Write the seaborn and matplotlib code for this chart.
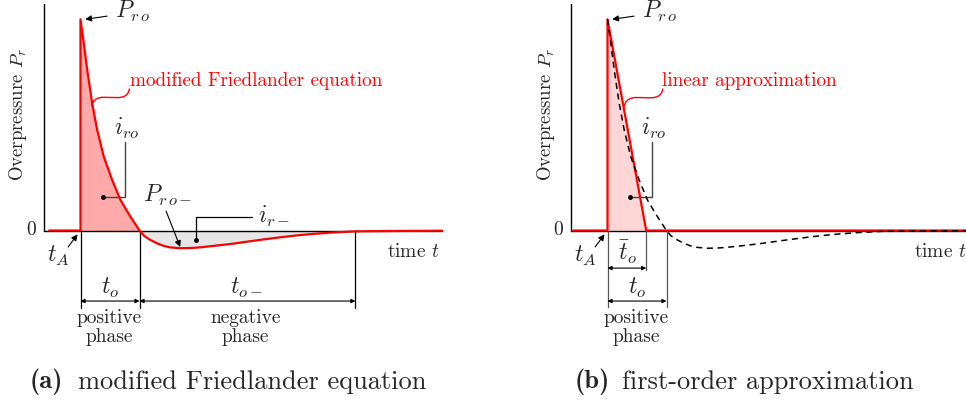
import numpy as np
import seaborn as sns
import matplotlib.pyplot as plt
from matplotlib.path import Path
from matplotlib.patches import PathPatch

# Pressure-time history (t in units of t_o, P in units of P_ro)
friedlander_t = [-0.53, 0.0, 0.0, 0.056, 0.114, 0.198, 0.283, 0.395, 0.537, 0.678, 0.847, 1.0,
                 1.08, 1.186, 1.30, 1.41, 1.52, 1.695, 1.85, 1.98, 2.25, 2.54, 2.82, 3.11,
                 3.39, 3.67, 3.95, 4.24, 4.66, 5.4, 6.13]
friedlander_p = [0.0, 0.0, 1.0, 0.886, 0.760, 0.602, 0.476, 0.349, 0.239, 0.144, 0.065, 0.0,
                 -0.026, -0.045, -0.061, -0.073, -0.080, -0.084, -0.083, -0.081, -0.073, -0.064,
                 -0.053, -0.042, -0.032, -0.023, -0.016, -0.010, -0.004, -0.002, -0.001]
linear_t = [-0.58, 0.0, 0.0, 0.656, 6.08]
linear_p = [0.0, 0.0, 1.0, 0.0, 0.0]
t_neg_end = 4.66
t_bar_o = 0.656

sns.set_style('white')
plt.rcParams['font.family'] = 'serif'
plt.rcParams['font.serif'] = ['cmr10', 'DejaVu Serif']
plt.rcParams['mathtext.fontset'] = 'cm'
plt.rcParams['axes.unicode_minus'] = False

W, H = 966, 401
fig = plt.figure(figsize=(W / 100, H / 100), dpi=100)

# px -> data mapping: t = (px - x0) / 59, P = (230.5 - py) / 211.2
def make_axes(left_px, x0):
    ax = fig.add_axes([left_px / W, 0, 483 / W, 1])
    ax.set_xlim((left_px - x0) / 59, (left_px + 483 - x0) / 59)
    ax.set_ylim((230.5 - H) / 211.2, 230.5 / 211.2)
    ax.axis('off')
    return ax

ax_a = make_axes(0, 80.5)
ax_b = make_axes(483, 607.5)

ft = np.array(friedlander_t)
fp = np.array(friedlander_p)
TXT = 14
MATH = 17

def arrow(ax, start, end, style='-|>', ms=9):
    ax.annotate('', xy=end, xytext=start,
                arrowprops=dict(arrowstyle=style, color='black', lw=0.8,
                                mutation_scale=ms, shrinkA=0, shrinkB=0))

def curly(ax, a, b, color='red'):
    mx, my = (a[0] + b[0]) / 2, (a[1] + b[1]) / 2
    verts = [a, (a[0] + 0.04, my + 0.01), (mx - 0.12, my), (mx, my),
             (mx + 0.12, my), (b[0] - 0.03, my - 0.01), b]
    codes = [Path.MOVETO] + [Path.CURVE4] * 6
    ax.add_patch(PathPatch(Path(verts, codes), fc='none', ec=color, lw=1.0))

def common(ax, ylab_x):
    ax.plot([-0.62, -0.62], [0, 1.073], color='black', lw=1.0)
    ax.plot([-0.62, 6.13], [0, 0], color='black', lw=1.0)
    ax.text(-0.75, 0, '0', ha='right', va='center', fontsize=14)
    ax.text(ylab_x, 0.55, r'Overpressure $P_r$', rotation=90, ha='center', va='center', fontsize=13.5)
    ax.text(-0.38, -0.12, r'$t_A$', ha='center', va='center', fontsize=MATH)
    arrow(ax, (-0.21, -0.078), (-0.05, -0.018))
    ax.text(0.585, 1.035, r'$P_{r\,o}$', ha='left', va='center', fontsize=MATH)
    arrow(ax, (0.45, 1.015), (0.08, 1.0))
    # i_ro callout
    ax.text(0.79, 0.485, r'$i_{ro}$', ha='center', va='center', fontsize=MATH)
    ax.plot([0.754, 0.754, 0.381], [0.419, 0.159, 0.159], color='#444444', lw=1.0)
    ax.plot([0.381], [0.159], 'o', color='black', ms=2.5)
    ax.text(5.64, -0.1, r'time $t$', ha='center', va='center', fontsize=TXT)

# ---------------- (a) modified Friedlander ----------------
pos = (ft >= 0) & (ft <= 1.0)
neg = (ft >= 1.0) & (ft <= t_neg_end)
ax_a.fill_between(ft[pos], fp[pos], 0, color='#ffaaaa', lw=0)
ax_a.fill_between(ft[neg], fp[neg], 0, color='#e6e6e6', lw=0)
common(ax_a, -1.06)
sns.lineplot(x=friedlander_t, y=friedlander_p, sort=False, estimator=None,
             color='red', lw=1.6, ax=ax_a, zorder=5)
ax_a.text(0.84, 0.708, 'modified Friedlander equation', color='red',
          ha='left', va='center', fontsize=13.8)
curly(ax_a, (0.19, 0.588), (0.83, 0.672))

ax_a.text(1.48, 0.168, r'$P_{r\,o-}$', ha='center', va='center', fontsize=MATH)
arrow(ax_a, (1.45, 0.092), (1.69, -0.078))
ax_a.text(3.01, 0.064, r'$i_{r-}$', ha='left', va='center', fontsize=MATH)
ax_a.plot([2.907, 1.958, 1.958], [0.064, 0.064, -0.045], color='black', lw=0.9)
ax_a.plot([1.958], [-0.045], 'o', color='black', ms=2.5)

for tv in [0.0, 1.0, t_neg_end]:
    ax_a.plot([tv, tv], [0, -0.367], color='black', lw=0.9)
arrow(ax_a, (0.0, -0.334), (1.0, -0.334), style='<|-|>', ms=6)
arrow(ax_a, (1.0, -0.334), (t_neg_end, -0.334), style='<|-|>', ms=6)
ax_a.text(0.5, -0.272, r'$t_o$', ha='center', va='center', fontsize=MATH)
ax_a.text(2.82, -0.272, r'$t_{o-}$', ha='center', va='center', fontsize=MATH)
ax_a.text(0.48, -0.46, 'positive\nphase', ha='center', va='center', fontsize=TXT, linespacing=1.05)
ax_a.text(2.79, -0.46, 'negative\nphase', ha='center', va='center', fontsize=TXT, linespacing=1.05)

# ---------------- (b) first-order approximation ----------------
lt = np.array(linear_t)
lp = np.array(linear_p)
ax_b.fill_between(lt[2:4], lp[2:4], 0, color='#ffd6d6', lw=0)
common(ax_b, -1.04)
sns.lineplot(x=linear_t, y=linear_p, sort=False, estimator=None,
             color='red', lw=1.6, ax=ax_b, zorder=5)
sns.lineplot(x=friedlander_t[2:], y=friedlander_p[2:], sort=False, estimator=None,
             color='black', lw=1.1, ax=ax_b, zorder=6)
ax_b.lines[-1].set_linestyle((0, (4, 3)))
ax_b.text(0.92, 0.708, 'linear approximation', color='red',
          ha='left', va='center', fontsize=13.8)
curly(ax_b, (0.28, 0.586), (0.94, 0.672))

for tv, bottom in [(0.0, -0.362), (t_bar_o, -0.188), (1.0, -0.362)]:
    ax_b.plot([tv, tv], [0, bottom], color='#555555', lw=0.9)
arrow(ax_b, (0.0, -0.178), (t_bar_o, -0.178), style='<|-|>', ms=6)
arrow(ax_b, (0.0, -0.334), (1.0, -0.334), style='<|-|>', ms=6)
ax_b.text(0.35, -0.1, r'$\bar{t}_o$', ha='center', va='center', fontsize=MATH)
ax_b.text(0.5, -0.272, r'$t_o$', ha='center', va='center', fontsize=MATH)
ax_b.text(0.48, -0.46, 'positive\nphase', ha='center', va='center', fontsize=TXT, linespacing=1.05)

# captions
cy = 1 - 382 / H
fig.text(30 / W, cy, '(a)', ha='left', va='center', fontsize=19, fontfamily='cmb10')
fig.text(78 / W, cy, 'modified Friedlander equation', ha='left', va='center', fontsize=19)
fig.text(575 / W, cy, '(b)', ha='left', va='center', fontsize=19, fontfamily='cmb10')
fig.text(622 / W, cy, 'first-order approximation', ha='left', va='center', fontsize=19)

fig.savefig('out.png', dpi=100)
